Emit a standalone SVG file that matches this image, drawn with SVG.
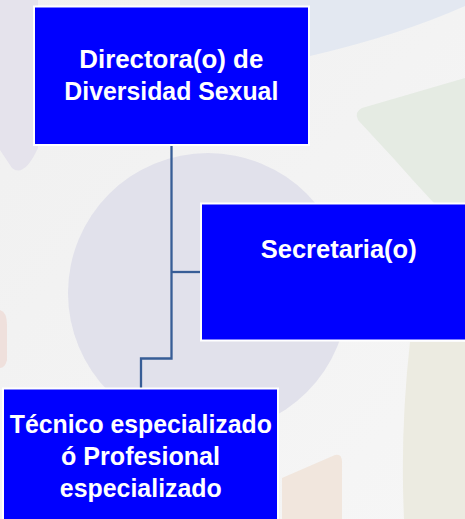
<svg xmlns="http://www.w3.org/2000/svg" width="465" height="519" viewBox="0 0 465 519">
<style>
.box{fill:#0000ff;stroke:#ffffff;stroke-width:2}
.lbl{font-family:"Liberation Sans",Arial,sans-serif;font-weight:bold;font-size:25px;fill:#ffffff;text-anchor:middle}
.conn{fill:none;stroke:#375d96;stroke-width:2.3}
</style>
<defs>
<linearGradient id="bg" x1="0" y1="0" x2="1" y2="1">
<stop offset="0" stop-color="#f0f0f0"/>
<stop offset="1" stop-color="#f6f6f6"/>
</linearGradient>
</defs>
<g id="background">
<rect width="465" height="519" fill="url(#bg)"/>
<path d="M180,0 L465,0 L465,6 Q400,35 310,56 L180,60 Z" fill="#e3e8f1"/>
<path d="M0,0 L38,0 L38,148 Q24,178 12,168 L0,150 Z" fill="#e5e3ec"/>
<path d="M362,108 L465,78 L465,235 Q430,200 395,160 L358,120 Q354,112 362,108 Z" fill="#e5ebe3"/>
<path d="M410,342 L465,342 L465,519 L404,519 Q400,430 410,342 Z" fill="#ecebe1"/>
<path d="M282,478 L335,455 Q342,453 342,462 L342,519 L282,519 Z" fill="#f1e6dd"/>
<path d="M0,310 Q7,312 7,325 L7,360 Q5,368 0,368 Z" fill="#efe0dc"/>
<circle cx="208" cy="293" r="140" fill="#e1e1eb"/>
</g>
<g id="connectors">
<polyline class="conn" points="171.5,145 171.5,358.5 141,358.5 141,389"/>
<line class="conn" x1="171.5" y1="272" x2="202" y2="272"/>
</g>
<g id="node-directora">
<rect class="box" x="34" y="6.5" width="275" height="138.5"/>
<text class="lbl" x="171.3" y="68" textLength="184" lengthAdjust="spacingAndGlyphs">Directora(o) de</text>
<text class="lbl" x="171.3" y="100" textLength="214" lengthAdjust="spacingAndGlyphs">Diversidad Sexual</text>
</g>
<g id="node-secretaria">
<rect class="box" x="201" y="203.5" width="280" height="137"/>
<text class="lbl" x="338.7" y="258" textLength="156" lengthAdjust="spacingAndGlyphs">Secretaria(o)</text>
</g>
<g id="node-tecnico">
<rect class="box" x="3" y="388.5" width="275" height="140"/>
<text class="lbl" x="140.8" y="433" textLength="262" lengthAdjust="spacingAndGlyphs">Técnico especializado</text>
<text class="lbl" x="140.5" y="465" textLength="159" lengthAdjust="spacingAndGlyphs">ó Profesional</text>
<text class="lbl" x="140.8" y="497" textLength="162" lengthAdjust="spacingAndGlyphs">especializado</text>
</g>
</svg>
